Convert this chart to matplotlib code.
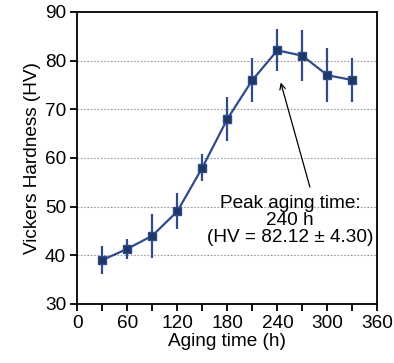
import matplotlib.pyplot as plt

plt.rcParams['font.family'] = ['Liberation Sans', 'DejaVu Sans']

aging_time = [30, 60, 90, 120, 150, 180, 210, 240, 270, 300, 330]
hardness = [39.0, 41.3, 44.0, 49.0, 58.0, 68.0, 76.0, 82.12, 81.0, 77.0, 76.0]
hardness_err = [2.9, 2.0, 4.5, 3.7, 2.8, 4.6, 4.6, 4.30, 5.2, 5.5, 4.6]

line_color = '#2F4B8C'
face_color = '#1F3763'
fs = 13.7

fig = plt.figure(figsize=(3.94, 3.63), dpi=100)
ax = fig.add_axes([0.196, 0.163, 0.762, 0.804])

ax.errorbar(aging_time, hardness, yerr=hardness_err, color=line_color,
            lw=1.6, elinewidth=1.6, capsize=0, marker='s', markersize=6,
            markerfacecolor=face_color, markeredgecolor=line_color,
            markeredgewidth=1.0, zorder=3)

ax.set_xlim(0, 360)
ax.set_ylim(30, 90)
ax.set_xticks(range(0, 361, 60))
ax.set_xticks(range(0, 361, 30), minor=True)
ax.set_yticks(range(30, 91, 10))
for y in range(40, 90, 10):
    ax.axhline(y, color='#999999', lw=0.8, ls=(0, (1.5, 1.5)), zorder=1)

ax.tick_params(axis='both', which='both', direction='out', labelsize=fs,
               width=1.3, color='black', pad=3)
ax.tick_params(which='major', length=5)
ax.tick_params(which='minor', length=5)
for s in ax.spines.values():
    s.set_linewidth(1.3)

ax.set_xlabel('Aging time (h)', fontsize=fs, labelpad=1)
ax.set_ylabel('Vickers Hardness (HV)', fontsize=fs, labelpad=3)

# peak annotation
ax.annotate('', xy=(244, 75.5), xytext=(279, 54.0),
            arrowprops=dict(arrowstyle='->', color='black', lw=0.9,
                            shrinkA=0, shrinkB=0))
ax.text(255, 47.1, 'Peak aging time:\n240 h\n(HV = 82.12 ± 4.30)',
        ha='center', va='center', fontsize=fs, linespacing=1.0)

fig.savefig('out.png', dpi=100)
